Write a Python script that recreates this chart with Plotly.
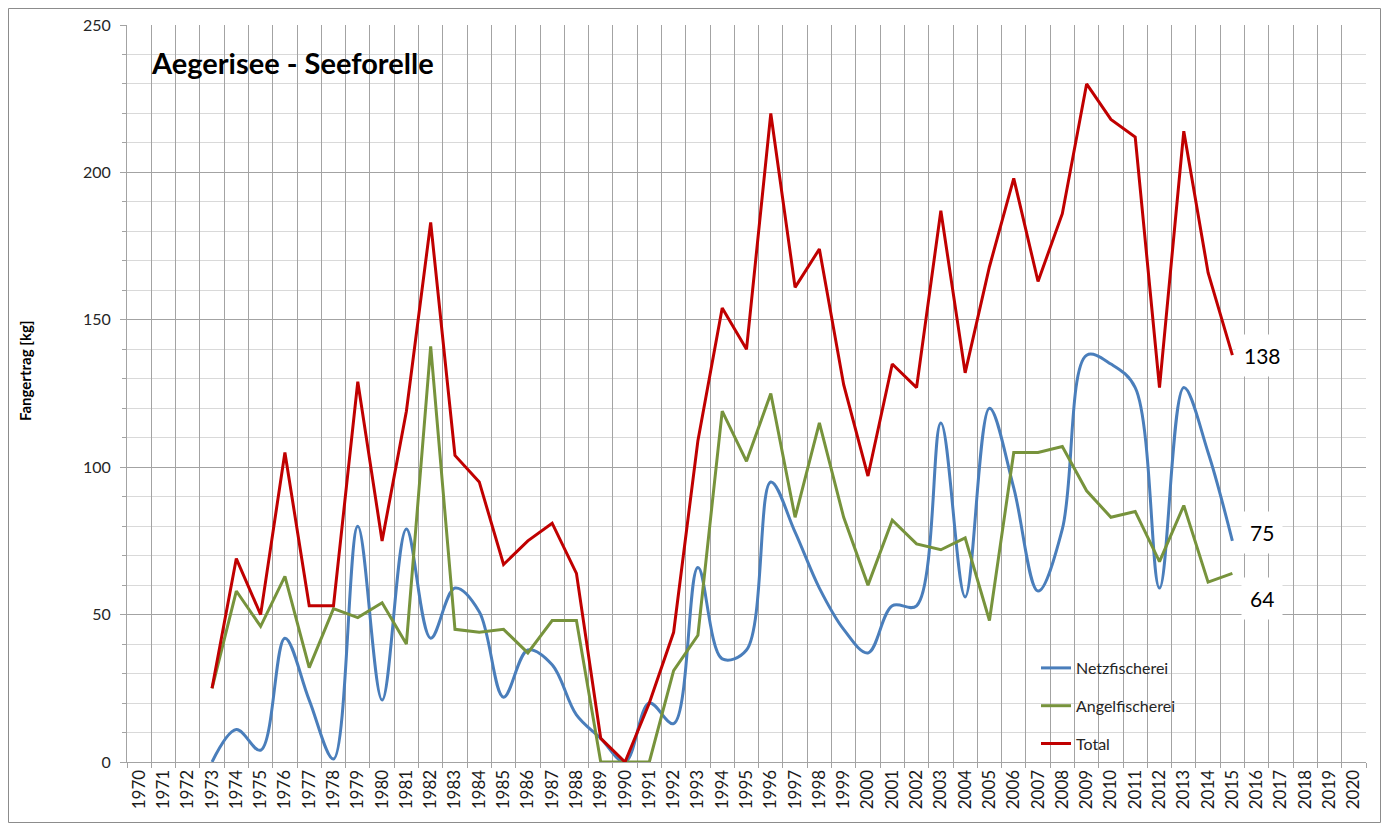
import plotly.graph_objects as go

years = [str(y) for y in range(1970, 2021)]
data_years = [str(y) for y in range(1973, 2016)]

netz = [0, 11, 4, 42, 21, 1, 80, 21, 79, 42, 59, 51, 22, 38, 33, 16, 8, 0, 20, 13,
        66, 35, 38, 95, 78, 59, 45, 37, 53, 53, 115, 56, 120, 93, 58, 79, 138, 135,
        127, 59, 127, 105, 75]
angel = [25, 58, 46, 63, 32, 52, 49, 54, 40, 141, 45, 44, 45, 37, 48, 48, 0, 0, 0, 31,
         43, 119, 102, 125, 83, 115, 83, 60, 82, 74, 72, 76, 48, 105, 105, 107, 92, 83,
         85, 68, 87, 61, 64]
total = [25, 69, 50, 105, 53, 53, 129, 75, 119, 183, 104, 95, 67, 75, 81, 64, 8, 0, 20, 44,
         109, 154, 140, 220, 161, 174, 128, 97, 135, 127, 187, 132, 168, 198, 163, 186, 230, 218,
         212, 127, 214, 166, 138]

end_labels = ["138", "75", "64"]
end_label_y = [138, 77.7, 55.6]

FONT = "Lato, 'Open Sans', sans-serif"

fig = go.Figure()
fig.add_trace(go.Scatter(x=data_years, y=netz, name="Netzfischerei", mode="lines",
                         line=dict(color="#4A7EBB", width=3, shape="spline", smoothing=1.0),
                         legendgroup="a"))
fig.add_trace(go.Scatter(x=data_years, y=angel, name="Angelfischerei", mode="lines",
                         line=dict(color="#77933C", width=3), legendgroup="b"))
fig.add_trace(go.Scatter(x=data_years, y=total, name="Total", mode="lines",
                         line=dict(color="#C00000", width=3), legendgroup="c"))

OFF = 8  # page body margin
W, H = 1376, 819
# plot area in page pixels: x 127..1366, y 25..762
L = 127 - OFF
T = 25 - OFF
R = W - (1366 - OFF)
B = H - (762 - OFF)
pw = W - L - R
ph = H - T - B

def px_x(p):
    return (p - OFF - L) / pw

def px_y(p):
    return (H - B - (p - OFF)) / ph

fig.update_layout(
    width=W, height=H,
    margin=dict(l=L, r=R, t=T, b=B, autoexpand=False),
    paper_bgcolor="white", plot_bgcolor="white",
    font=dict(family=FONT, color="#262626", size=16),
    showlegend=True,
    legend=dict(x=px_x(1036), y=px_y(651), xanchor="left", yanchor="top",
                bgcolor="rgba(0,0,0,0)", font=dict(size=16, color="#262626"),
                tracegroupgap=14, itemwidth=30),
    xaxis=dict(type="category", categoryorder="array", categoryarray=years,
               tickmode="array", tickvals=years, ticktext=years,
               tickson="boundaries", tickangle=-90,
               showgrid=True, gridcolor="#a3a3a3", gridwidth=1,
               showline=True, linecolor="#a3a3a3", linewidth=1,
               ticks="outside", ticklen=5, tickcolor="#a3a3a3",
               tickfont=dict(size=17, color="#1a1a1a"), range=[-0.5, 50.5],
               zeroline=False),
    yaxis=dict(range=[0, 250], dtick=50, tick0=0,
               showgrid=True, gridcolor="#a3a3a3", gridwidth=1,
               showline=True, linecolor="#a3a3a3", linewidth=1,
               ticks="outside", ticklen=6, tickcolor="#a3a3a3",
               tickfont=dict(size=16, color="#262626"), ticklabelstandoff=6,
               zeroline=False,
               minor=dict(dtick=10, showgrid=True, gridcolor="#d9d9d9", gridwidth=1,
                          ticks="outside", ticklen=4, tickcolor="#a3a3a3")),
)

annotations = [
    dict(text="<b>Aegerisee - Seeforelle</b>", x=px_x(149), y=px_y(63), xref="paper", yref="paper",
         xanchor="left", yanchor="middle", showarrow=False,
         font=dict(size=29, color="black", family=FONT)),
    dict(text="<b>Fangertrag [kg]</b>", x=px_x(25), y=px_y(371), xref="paper", yref="paper",
         xanchor="center", yanchor="middle", showarrow=False, textangle=-90,
         font=dict(size=15, color="black", family=FONT)),
]
for lab, yv in zip(end_labels, end_label_y):
    annotations.append(dict(text=lab, x=px_x(1262), y=yv, xref="paper", yref="y",
                            xanchor="center", yanchor="middle", showarrow=False,
                            bgcolor="white", borderpad=8,
                            font=dict(size=21, color="black", family=FONT)))
fig.update_layout(annotations=annotations)

fig.add_shape(type="rect", xref="paper", yref="paper",
              x0=px_x(8.5), x1=px_x(1380.5), y0=px_y(822.5), y1=px_y(8.5),
              line=dict(color="#8c8c8c", width=1), fillcolor="rgba(0,0,0,0)", layer="below")

fig.write_html("out.html")
